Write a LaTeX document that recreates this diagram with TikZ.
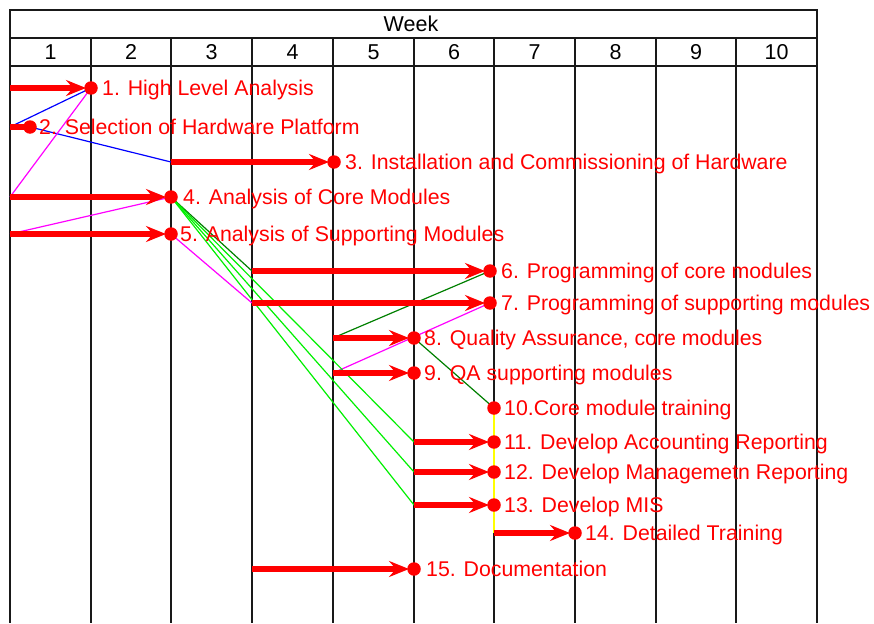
\documentclass[tikz,border=0pt]{standalone}
\usepackage{fontspec}
\setmainfont{Liberation Sans}
\usetikzlibrary{arrows.meta}
\definecolor{dkgreen}{RGB}{0,128,0}
\definecolor{brgreen}{RGB}{0,240,0}
\definecolor{magen}{RGB}{255,0,255}
\definecolor{yel}{RGB}{255,255,0}
\definecolor{gridc}{RGB}{25,25,25}
\tikzset{
  gridline/.style={draw=gridc, line width=2pt},
  hdr/.style={font=\fontsize{21.5}{24}\selectfont, text=black, inner sep=0pt},
  taskdot/.style={circle, fill=red, draw=none, minimum size=13.5pt, inner sep=0pt},
  bar/.style={draw=red, line width=5.5pt, -{Stealth[length=20pt,width=16pt,inset=7pt]}, shorten >=5pt},
  plainbar/.style={draw=red, line width=5.5pt},
  lbl/.style={font=\fontsize{21.3}{24}\selectfont, text=red, inner sep=0pt, anchor=base west},
  dep/.style={line width=1.2pt},
}
\begin{document}
\begin{tikzpicture}[x=1pt,y=-1pt]
\useasboundingbox (0,0) rectangle (874,623);
\fill[white] (0,0) rectangle (874,623);
% header
\draw[gridline] (10,10) rectangle (817,38);
\draw[gridline] (10,38) -- (817,38);
\draw[gridline] (10,66) -- (817,66);
\node[hdr] (week) at (411,24) {Week};
\foreach \x [count=\i] in {10,91,171,252,333,414,494,575,656,736,817}{
  \draw[gridline] (\x,38) -- (\x,623);
}
\foreach \x [count=\i] in {50.5,131,211.5,292.5,373.5,454,534.5,615.5,696,776.5}{
  \node[hdr] (wk\i) at (\x,52) {\i};
}
% coordinates of task starts
\coordinate (s1) at (10,88);
\coordinate (s2) at (10,127);
\coordinate (s3) at (171,162);
\coordinate (s4) at (10,197);
\coordinate (s5) at (10,234);
\coordinate (s6) at (252,271);
\coordinate (s7) at (252,303);
\coordinate (s8) at (333,338);
\coordinate (s9) at (333,373);
\coordinate (s11) at (414,442);
\coordinate (s12) at (414,472);
\coordinate (s13) at (414,505);
\coordinate (s14) at (494,533);
\coordinate (s15) at (252,569);
% dot positions
\coordinate (p1) at (91,88);
\coordinate (p2) at (30,127);
\coordinate (p3) at (334,162);
\coordinate (p4) at (171,197);
\coordinate (p5) at (171,234);
\coordinate (p6) at (490,271);
\coordinate (p7) at (490,303);
\coordinate (p8) at (414,338);
\coordinate (p9) at (414,373);
\coordinate (p10) at (494,408);
\coordinate (p11) at (494,442);
\coordinate (p12) at (494,472);
\coordinate (p13) at (494,505);
\coordinate (p14) at (575,533);
\coordinate (p15) at (414,569);
% dependency lines
\draw[dep, blue] (p1) -- (s2);
\draw[dep, blue] (p2) -- (s3);
\draw[dep, magen] (p1) -- (s4);
\draw[dep, magen] (p4) -- (s5);
\draw[dep, magen] (p5) -- (s7);
\draw[dep, magen] (p7) -- (s9);
\draw[dep, dkgreen] (p4) -- (s6);
\draw[dep, dkgreen] (p6) -- (s8);
\draw[dep, dkgreen] (p8) -- (p10);
\draw[dep, brgreen] (p4) -- (s11);
\draw[dep, brgreen] (p4) -- (s12);
\draw[dep, brgreen] (p4) -- (s13);
\draw[dep, yel] (p10) -- (s14);
% bars
\draw[bar] (s1) -- (p1);
\draw[plainbar] (s2) -- (p2);
\draw[bar] (s3) -- (p3);
\draw[bar] (s4) -- (p4);
\draw[bar] (s5) -- (p5);
\draw[bar] (s6) -- (p6);
\draw[bar] (s7) -- (p7);
\draw[bar] (s8) -- (p8);
\draw[bar] (s9) -- (p9);
\draw[bar] (s11) -- (p11);
\draw[bar] (s12) -- (p12);
\draw[bar] (s13) -- (p13);
\draw[bar] (s14) -- (p14);
\draw[bar] (s15) -- (p15);
% dots
\foreach \k in {1,...,15}{
  \node[taskdot] (d\k) at (p\k) {};
}
% labels
\node[lbl] (l1) at ([shift={(11,7.7)}]p1) {1. High Level Analysis};
\node[lbl] (l2) at ([shift={(9,7.7)}]p2) {2. Selection of Hardware Platform};
\node[lbl] (l3) at ([shift={(11,7.7)}]p3) {3. Installation and Commissioning of Hardware};
\node[lbl] (l4) at ([shift={(12,7.7)}]p4) {4. Analysis of Core Modules};
\node[lbl] (l5) at ([shift={(9,7.7)}]p5) {5. Analysis of Supporting Modules};
\node[lbl] (l6) at ([shift={(11,7.7)}]p6) {6. Programming of core modules};
\node[lbl] (l7) at ([shift={(11,7.7)}]p7) {7. Programming of supporting modules};
\node[lbl] (l8) at ([shift={(10,7.7)}]p8) {8. Quality Assurance, core modules};
\node[lbl] (l9) at ([shift={(10,7.7)}]p9) {9. QA supporting modules};
\node[lbl] (l10) at ([shift={(10,7.7)}]p10) {10.Core module training};
\node[lbl] (l11) at ([shift={(10,7.7)}]p11) {11. Develop Accounting Reporting};
\node[lbl] (l12) at ([shift={(10,7.7)}]p12) {12. Develop Managemetn Reporting};
\node[lbl] (l13) at ([shift={(10,7.7)}]p13) {13. Develop MIS};
\node[lbl] (l14) at ([shift={(10,7.7)}]p14) {14. Detailed Training};
\node[lbl] (l15) at ([shift={(12,7.7)}]p15) {15. Documentation};
\end{tikzpicture}
\end{document}
